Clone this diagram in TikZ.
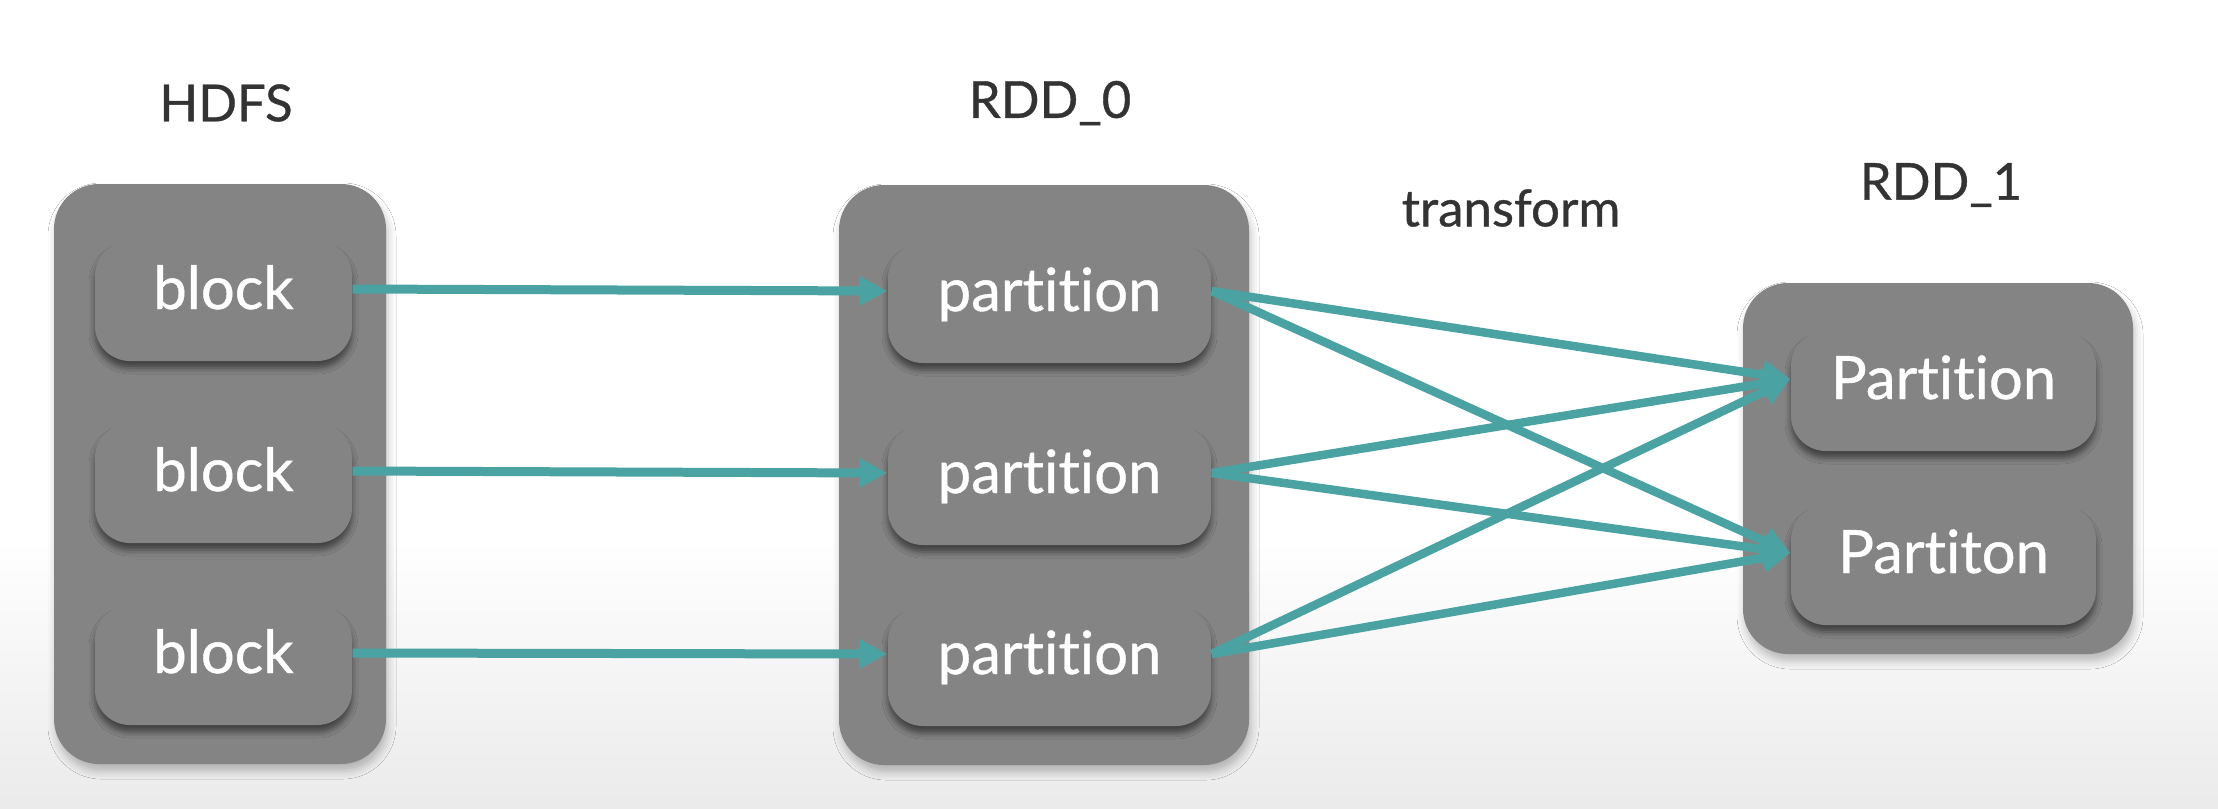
\documentclass[tikz,border=0pt]{standalone}
\usepackage{fontspec}
\setmainfont{Lato}[FakeBold=0.7, Ligatures=NoCommon]
\usetikzlibrary{arrows.meta,shadows.blur}
\usepackage{xcolor}
\definecolor{boxgray}{HTML}{848484}
\definecolor{arrowteal}{HTML}{4AA3A2}
\definecolor{titlegray}{HTML}{333333}

\begin{document}
\begin{tikzpicture}
\tikzstyle{container} = [
	shape=rectangle,
	fill=boxgray, %fill of the big box
	rounded corners=0.45cm,
	inner sep=0pt,
	blur shadow={shadow xshift=0.02cm, shadow yshift=-0.07cm, shadow blur radius=0.08cm, shadow opacity=25}
];
\tikzstyle{part} = [
	shape=rectangle,
	fill=boxgray,
	rounded corners=0.35cm,
	text=white,
	font=\fontsize{17pt}{20pt}\selectfont,
	inner sep=0pt,
	text height=0.68cm, %text sits a little above the middle
	text depth=0.52cm,
	blur shadow={shadow xshift=0cm, shadow yshift=-0.07cm, shadow blur radius=0.06cm, shadow opacity=50}
];
\tikzstyle{title} = [
	text=titlegray,
	font=\fontsize{14.5pt}{17pt}\selectfont
];
\tikzstyle{flow} = [
	-{Triangle[length=0.28cm,width=0.28cm]}
];

\useasboundingbox (0,0) rectangle (22.18,-8.08);
\fill[white] (0,0) rectangle (22.18,-8.08);
\shade[top color=white, bottom color=gray!16] (0,-5.4) rectangle (22.18,-8.08);

%HDFS
\node[title](tHD) at (2.26,-1.03) {HDFS};
\node[container, minimum width=3.32cm, minimum height=5.8cm](HD) at (2.20,-4.74) {};
\node[part, minimum width=2.57cm](hd1) at (2.235,-3.01) {block};
\node[part, minimum width=2.57cm](hd2) at (2.235,-4.83) {block};
\node[part, minimum width=2.57cm](hd3) at (2.235,-6.65) {block};

%RDD_0
\node[title](tRA) at (10.50,-1.03) {RDD\_0};
\node[container, minimum width=4.10cm, minimum height=5.8cm](RA) at (10.44,-4.75) {};
\node[part, minimum width=3.23cm](ra1) at (10.495,-3.03) {partition};
\node[part, minimum width=3.23cm](ra2) at (10.495,-4.85) {partition};
\node[part, minimum width=3.23cm](ra3) at (10.495,-6.66) {partition};

%RDD_1
\node[title](tRB) at (19.41,-1.85) {RDD\_1};
\node[container, minimum width=3.90cm, minimum height=3.71cm](RB) at (19.38,-4.685) {};
\node[part, minimum width=3.05cm](rb1) at (19.435,-3.91) {Partition};
\node[part, minimum width=3.05cm](rb2) at (19.435,-5.65) {Partiton};

\node[title](tTr) at (15.11,-2.08) {transform};

%read blocks into partitions
\draw[line width=0.09cm, color=arrowteal]
	([yshift=0.12cm]hd1.east) edge[flow] ([yshift=0.12cm]ra1.west)
	([yshift=0.12cm]hd2.east) edge[flow] ([yshift=0.12cm]ra2.west)
	([yshift=0.12cm]hd3.east) edge[flow] ([yshift=0.12cm]ra3.west)
;

%transform
\draw[line width=0.085cm, color=arrowteal]
	([yshift=0.12cm]ra1.east) edge[flow] ([yshift=0.12cm]rb1.west)
	([yshift=0.12cm]ra1.east) edge[flow] ([yshift=0.12cm]rb2.west)
	([yshift=0.12cm]ra2.east) edge[flow] ([yshift=0.12cm]rb1.west)
	([yshift=0.12cm]ra2.east) edge[flow] ([yshift=0.12cm]rb2.west)
	([yshift=0.12cm]ra3.east) edge[flow] ([yshift=0.12cm]rb1.west)
	([yshift=0.12cm]ra3.east) edge[flow] ([yshift=0.12cm]rb2.west)
;
\end{tikzpicture}
\end{document}
